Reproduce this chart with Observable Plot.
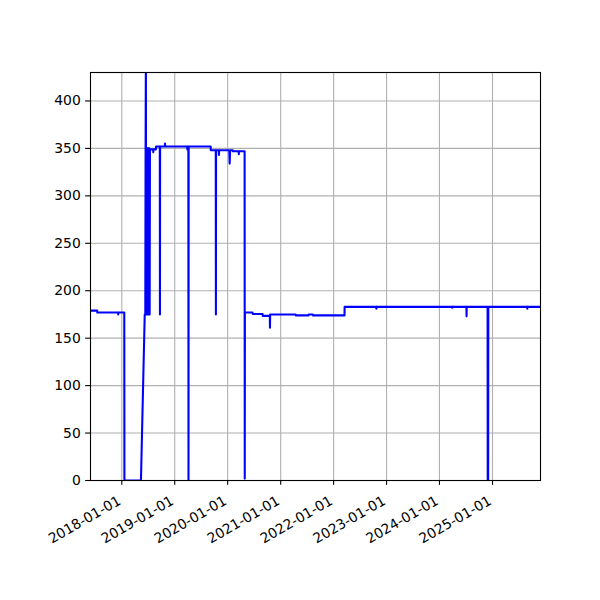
<!DOCTYPE html>
<html>
<head>
<meta charset="utf-8">
<script src="https://cdn.jsdelivr.net/npm/d3@7"></script>
<script src="https://cdn.jsdelivr.net/npm/@observablehq/plot@0.6"></script>
<style>
  html, body { margin: 0; padding: 0; background: white; }
</style>
</head>
<body>
<div id="chart"></div>
<script>
const dates = [
  "2017-05-30","2017-07-15","2017-07-16","2017-12-06","2017-12-07","2017-12-08",
  "2018-01-18","2018-01-19","2018-05-13","2018-06-08","2018-06-12",
  "2018-06-14","2018-06-16","2018-06-18","2018-06-20","2018-06-22","2018-06-24",
  "2018-06-26","2018-06-28","2018-06-30","2018-07-02","2018-07-04","2018-07-06",
  "2018-07-08","2018-07-10","2018-07-12","2018-07-14",
  "2018-08-05","2018-08-06","2018-08-07","2018-08-24","2018-08-25",
  "2018-09-20","2018-09-21","2018-09-22","2018-10-25","2018-10-26","2018-10-27",
  "2019-03-28","2019-03-29","2019-03-30",
  "2019-04-05","2019-04-06","2019-04-07",
  "2019-09-06","2019-09-07","2019-10-11","2019-10-12","2019-10-13",
  "2019-11-01","2019-11-02","2019-11-03",
  "2020-01-12","2020-01-15","2020-01-18","2020-02-05","2020-02-06",
  "2020-03-17","2020-03-18","2020-03-19",
  "2020-04-27","2020-04-28","2020-04-29",
  "2020-06-21","2020-06-22","2020-08-29","2020-08-30",
  "2020-10-18","2020-10-19","2020-10-20",
  "2021-04-14","2021-04-15","2021-07-12","2021-07-13","2021-08-10","2021-08-11",
  "2022-03-17","2022-03-18",
  "2022-10-22","2022-10-23","2022-10-24",
  "2024-03-29","2024-03-30","2024-03-31",
  "2024-07-05","2024-07-06","2024-07-07",
  "2024-11-28","2024-11-29","2024-12-02","2024-12-03",
  "2025-08-28","2025-08-29","2025-08-30",
  "2025-11-28"
];
const values = [
  179,179,177,177,175,177,
  177,0,0,175,175,
  350,450,175,350,175,350,
  175,350,175,350,175,350,
  175,350,175,349,
  349,346,349,349,352,
  352,175,352,352,355,352,
  352,349,352,
  352,0,352,
  352,348,348,175,348,
  348,343,348,
  348,334,348,348,347,
  347,344,347,
  347,2,177,
  177,175.5,175.5,173.5,
  173.5,161,175,
  175,174,174,175,175,174,
  174,183,
  183,181,183,
  183,182,183,
  183,173,183,
  183,0,0,183,
  183,181,183,
  183
];
const xTickLabels = ["2018-01-01","2019-01-01","2020-01-01","2021-01-01","2022-01-01","2023-01-01","2024-01-01","2025-01-01"];
const yTicks = [0,50,100,150,200,250,300,350,400];
const yMax = 430;

const rows = dates.map((d, i) => ({date: new Date(d + "T00:00:00Z"), value: values[i]}));
const xTicks = xTickLabels.map(d => new Date(d + "T00:00:00Z"));
const fmt = d3.utcFormat("%Y-%m-%d");

const chart = Plot.plot({
  width: 600,
  height: 600,
  marginTop: 72,
  marginBottom: 120,
  marginLeft: 90,
  marginRight: 60,
  style: {fontFamily: "DejaVu Sans", fontSize: "13.9px", color: "black", background: "white"},
  x: {type: "utc", domain: [rows[0].date, rows[rows.length - 1].date]},
  y: {domain: [0, yMax]},
  marks: [
    Plot.gridX(xTicks, {stroke: "#b0b0b0", strokeOpacity: 1, strokeWidth: 1.1}),
    Plot.gridY(yTicks, {stroke: "#b0b0b0", strokeOpacity: 1, strokeWidth: 1.1}),
    Plot.lineY(rows, {x: "date", y: "value", stroke: "#0000ff", strokeWidth: 2.08, clip: true}),
    Plot.frame({stroke: "black", strokeWidth: 1.1}),
    Plot.axisY(yTicks, {tickSize: 4.86, tickPadding: 4.86, label: null, stroke: "black", strokeWidth: 1.1, fill: "black", fontSize: 13.9}),
    Plot.axisX(xTicks, {tickSize: 4.86, tickPadding: 4.86, label: null, stroke: "black", strokeWidth: 1.1, fill: "black", tickFormat: fmt, text: null}),
    Plot.text(xTicks, {x: d => d, text: d => fmt(d), frameAnchor: "bottom", dy: 23, rotate: -30, textAnchor: "end", lineAnchor: "bottom", fill: "black", fontSize: 13.9})
  ]
});
document.getElementById("chart").appendChild(chart);
</script>
</body>
</html>
